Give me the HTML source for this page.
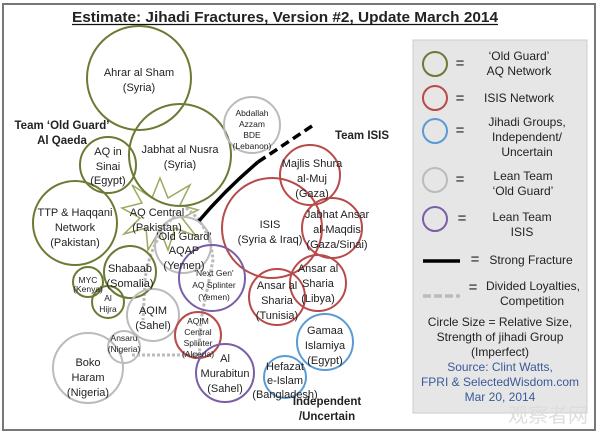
<!DOCTYPE html>
<html><head><meta charset="utf-8"><style>
body{margin:0;background:#fff;width:600px;height:436px;overflow:hidden}
svg text{font-family:"Liberation Sans",sans-serif;fill:#222}
</style></head><body>
<svg width="600" height="436" viewBox="0 0 600 436" xmlns="http://www.w3.org/2000/svg">
<rect x="3" y="4" width="592" height="426" fill="#fff" stroke="#777" stroke-width="2"/>
<text x="72" y="22" font-size="15" font-weight="bold" textLength="426" lengthAdjust="spacingAndGlyphs" fill="#111">Estimate: Jihadi Fractures, Version #2, Update March 2014</text>
<line x1="72" y1="24.5" x2="498" y2="24.5" stroke="#111" stroke-width="1.2"/>

<polygon fill="none" stroke="#9aaa60" stroke-width="1.5" points="160,178 168,198 190,185 180,205 198,210 182,218 196,236 175,228 168,250 160,230 148,250 146,228 124,234 140,218 122,208 142,203 132,185 152,198"/>

<g fill="none" stroke="#bbb" stroke-width="3" stroke-dasharray="3,2">
<path d="M186,208 Q210,225 213,260 L205,300 Q198,330 200,355"/>
<path d="M178,212 Q150,240 145,280 L143,320"/>
<path d="M132,355 L200,355"/>
</g>
<path d="M198,222 Q225,190 258,162" fill="none" stroke="#000" stroke-width="3.5"/>
<path d="M258,162 L312,126" fill="none" stroke="#000" stroke-width="3.5" stroke-dasharray="9,5"/>

<g fill="none" stroke-width="2">
<g stroke="#6b7a35">
<circle cx="139" cy="78" r="52"/>
<circle cx="180" cy="155" r="51"/>
<circle cx="108" cy="165" r="28"/>
<circle cx="75" cy="223" r="42"/>
<circle cx="130" cy="272" r="26"/>
<circle cx="88" cy="282" r="15"/>
<circle cx="108" cy="302" r="16"/>
</g>
<g stroke="#bbb">
<circle cx="252" cy="125" r="28"/>
<circle cx="183" cy="245" r="28"/>
<circle cx="153" cy="315" r="26"/>
<circle cx="124" cy="347" r="16"/>
<circle cx="88" cy="368" r="35"/>
</g>
<g stroke="#b94a4a">
<circle cx="272" cy="228" r="50"/>
<circle cx="310" cy="175" r="30"/>
<circle cx="332" cy="228" r="30"/>
<circle cx="318" cy="283" r="28"/>
<circle cx="277" cy="297" r="28"/>
<circle cx="198" cy="335" r="23"/>
</g>
<g stroke="#7a5ea6">
<circle cx="212" cy="278" r="33"/>
<circle cx="225" cy="373" r="29"/>
</g>
<g stroke="#5b9bd5">
<circle cx="325" cy="342" r="28"/>
<circle cx="285" cy="377" r="21"/>
</g>
</g>

<g font-size="11" text-anchor="middle">
<text x="139" y="76">Ahrar al Sham</text><text x="139" y="91">(Syria)</text>
<text x="180" y="153">Jabhat al Nusra</text><text x="180" y="168">(Syria)</text>
<text x="108" y="155">AQ in</text><text x="108" y="170">Sinai</text><text x="108" y="184">(Egypt)</text>
<text x="75" y="216">TTP &amp; Haqqani</text><text x="75" y="231">Network</text><text x="75" y="246">(Pakistan)</text>
<text x="157" y="216">AQ Central</text><text x="157" y="231">(Pakistan)</text>
<text x="184" y="240">'Old Guard'</text><text x="184" y="254">AQAP</text><text x="184" y="269">(Yemen)</text>
<text x="130" y="272">Shabaab</text><text x="130" y="287">(Somalia)</text>
<text x="153" y="314">AQIM</text><text x="153" y="329">(Sahel)</text>
<text x="88" y="366">Boko</text><text x="88" y="381">Haram</text><text x="88" y="396">(Nigeria)</text>
<text x="270" y="228">ISIS</text><text x="270" y="243">(Syria &amp; Iraq)</text>
<text x="312" y="167">Majlis Shura</text><text x="312" y="182">al-Muj</text><text x="312" y="197">(Gaza)</text>
<text x="337" y="218">Jabhat Ansar</text><text x="337" y="233">al-Maqdis</text><text x="337" y="248">(Gaza/Sinai)</text>
<text x="318" y="272">Ansar al</text><text x="318" y="287">Sharia</text><text x="318" y="302">(Libya)</text>
<text x="277" y="289">Ansar al</text><text x="277" y="304">Sharia</text><text x="277" y="319">(Tunisia)</text>
<text x="325" y="334">Gamaa</text><text x="325" y="349">Islamiya</text><text x="325" y="364">(Egypt)</text>
<text x="285" y="370">Hefazat</text><text x="285" y="384">e-Islam</text><text x="285" y="398">(Bangladesh)</text>
<text x="225" y="362">Al</text><text x="225" y="377">Murabitun</text><text x="225" y="392">(Sahel)</text>
</g>
<g font-size="8.5" text-anchor="middle">
<text x="252" y="116">Abdallah</text><text x="252" y="127">Azzam</text><text x="252" y="138">BDE</text><text x="252" y="149">(Lebanon)</text>
<text x="214" y="276">'Next Gen'</text><text x="214" y="288">AQ Splinter</text><text x="214" y="300">(Yemen)</text>
<text x="198" y="324">AQIM</text><text x="198" y="335">Central</text><text x="198" y="346">Splinter</text><text x="198" y="357">(Algeria)</text>
<text x="88" y="283">MYC</text><text x="88" y="292">(Kenya)</text>
<text x="108" y="301">Al</text><text x="108" y="312">Hijra</text>
<text x="124" y="341">Ansaru</text><text x="124" y="352">(Nigeria)</text>
</g>
<g font-size="11.5" font-weight="bold" text-anchor="middle" fill="#111">
<text x="62" y="129">Team ‘Old Guard’</text><text x="62" y="144">Al Qaeda</text>
<text x="362" y="139">Team  ISIS</text>
<text x="327" y="405">Independent</text><text x="327" y="420">/Uncertain</text>
</g>

<rect x="413" y="40" width="174" height="373" fill="#e6e6e6" stroke="#ccc"/>
<g fill="none" stroke-width="2">
<circle cx="435" cy="64" r="12" stroke="#6b7a35"/>
<circle cx="435" cy="98" r="12" stroke="#b94a4a"/>
<circle cx="435" cy="131" r="12" stroke="#5b9bd5"/>
<circle cx="435" cy="180" r="12" stroke="#bbb"/>
<circle cx="435" cy="219" r="12" stroke="#7a5ea6"/>
</g>
<line x1="423" y1="261" x2="460" y2="261" stroke="#000" stroke-width="3.5"/>
<line x1="423" y1="296" x2="460" y2="296" stroke="#bbb" stroke-width="3.5" stroke-dasharray="8,3"/>
<g font-size="12" text-anchor="middle">
<text x="460" y="68" font-size="15">=</text><text x="519" y="60">‘Old Guard’</text><text x="519" y="75">AQ Network</text>
<text x="460" y="103" font-size="15">=</text><text x="519" y="102">ISIS Network</text>
<text x="460" y="135" font-size="15">=</text><text x="527" y="126">Jihadi Groups,</text><text x="527" y="141">Independent/</text><text x="527" y="156">Uncertain</text>
<text x="460" y="184" font-size="15">=</text><text x="523" y="180">Lean Team</text><text x="523" y="195">‘Old Guard’</text>
<text x="462" y="223" font-size="15">=</text><text x="522" y="221">Lean Team</text><text x="522" y="236">ISIS</text>
<text x="475" y="264" font-size="15">=</text><text x="531" y="264">Strong Fracture</text>
<text x="473" y="292" font-size="15">=</text><text x="533" y="290">Divided Loyalties,</text><text x="532" y="305">Competition</text>
<text x="500" y="326">Circle Size = Relative Size,</text>
<text x="500" y="341">Strength of jihadi Group</text>
<text x="500" y="356">(Imperfect)</text>
<text x="500" y="371" style="fill:#3a5a9a">Source: Clint Watts,</text>
<text x="500" y="386" style="fill:#3a5a9a">FPRI &amp; SelectedWisdom.com</text>
<text x="500" y="401" style="fill:#3a5a9a">Mar 20, 2014</text>
</g>
<text x="548" y="422" font-size="20" text-anchor="middle" style="fill:#ddd;font-family:'Noto Sans CJK SC',sans-serif">观察者网</text>
</svg>
</body></html>
